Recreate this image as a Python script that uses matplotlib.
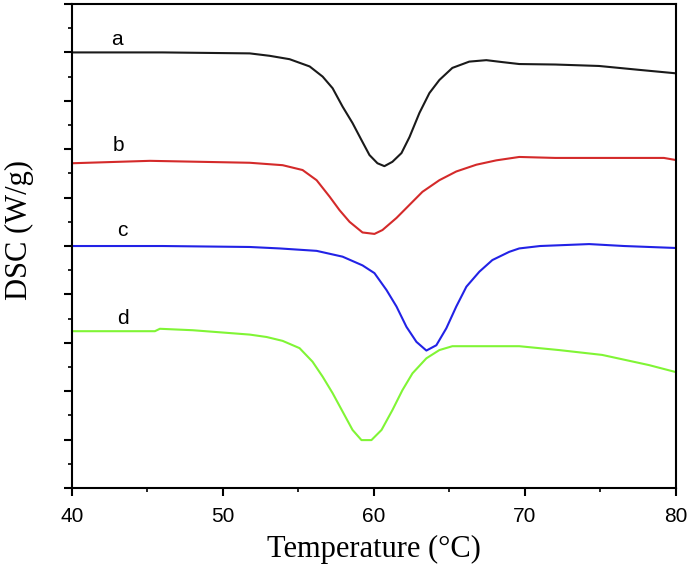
import numpy as np
import matplotlib.pyplot as plt
from matplotlib.ticker import MultipleLocator, NullFormatter

temp_a = [40.0, 46.0, 51.77, 53.09, 54.41, 55.74, 56.60, 57.26, 57.92, 58.58, 59.17, 59.70,
          60.23, 60.69, 61.22, 61.82, 62.35, 63.01, 63.67, 64.33, 65.19, 66.31, 67.44, 68.50,
          69.62, 72.0, 74.9, 77.55, 79.93]
dsc_a = [9.0, 9.0, 8.98, 8.93, 8.86, 8.71, 8.50, 8.26, 7.88, 7.54, 7.19, 6.88,
         6.71, 6.65, 6.74, 6.92, 7.25, 7.75, 8.16, 8.43, 8.68, 8.81, 8.84, 8.80,
         8.76, 8.75, 8.72, 8.64, 8.57]

temp_b = [40.0, 45.16, 51.77, 53.95, 55.27, 56.20, 57.06, 57.72, 58.38, 59.24, 60.03, 60.56,
          61.49, 62.35, 63.21, 64.33, 65.45, 66.78, 68.10, 69.62, 72.0, 75.0, 79.2, 79.93]
dsc_b = [6.71, 6.76, 6.72, 6.67, 6.57, 6.36, 6.02, 5.74, 5.50, 5.28, 5.25, 5.33,
         5.58, 5.85, 6.12, 6.36, 6.54, 6.68, 6.77, 6.84, 6.82, 6.82, 6.82, 6.78]

temp_c = [40.0, 46.0, 51.77, 53.75, 56.20, 57.92, 59.24, 60.03, 60.83, 61.49, 62.15, 62.81,
          63.47, 64.13, 64.79, 65.45, 66.12, 66.98, 67.84, 68.96, 69.62, 71.0, 74.25, 76.56,
          79.93]
dsc_c = [5.0, 5.0, 4.98, 4.95, 4.90, 4.78, 4.60, 4.44, 4.09, 3.75, 3.33, 3.02,
         2.84, 2.95, 3.30, 3.75, 4.16, 4.47, 4.71, 4.88, 4.95, 5.0, 5.04, 5.0,
         4.96]

temp_d = [40.0, 45.49, 45.82, 48.0, 51.77, 52.89, 53.95, 55.07, 55.93, 56.60, 57.26, 57.92,
          58.58, 59.17, 59.83, 60.50, 61.22, 61.88, 62.55, 63.47, 64.33, 65.19, 67.17, 69.62,
          72.26, 75.11, 78.21, 79.93]
dsc_d = [3.24, 3.24, 3.29, 3.26, 3.17, 3.12, 3.04, 2.89, 2.61, 2.30, 1.96, 1.58,
         1.20, 0.99, 0.99, 1.20, 1.61, 2.02, 2.37, 2.68, 2.85, 2.93, 2.93, 2.93,
         2.85, 2.75, 2.54, 2.40]

labels = ['a', 'b', 'c', 'd']
label_pos = [(43.0, 9.26), (43.1, 7.07), (43.3, 5.33), (43.4, 3.51)]
colors = ['#1a1a1a', '#d42a2a', '#2222e6', '#80f535']

fig = plt.figure(figsize=(6.89, 5.74), dpi=100)
ax = fig.add_axes([0.1045, 0.1498, 0.8766, 0.8432])

series = [(temp_a, dsc_a), (temp_b, dsc_b), (temp_c, dsc_c), (temp_d, dsc_d)]
for (t, s), c in zip(series, colors):
    ax.plot(t, s, color=c, lw=1.5)

sans = ['Liberation Sans', 'DejaVu Sans']
serif = ['Liberation Serif', 'DejaVu Serif']
for lab, (x, y) in zip(labels, label_pos):
    ax.text(x, y, lab, family=sans, fontsize=15, ha='center', va='center')

ax.set_xlim(40, 80)
ax.set_ylim(0, 10)
ax.xaxis.set_major_locator(MultipleLocator(10))
ax.xaxis.set_minor_locator(MultipleLocator(5))
ax.yaxis.set_major_locator(MultipleLocator(1))
ax.yaxis.set_minor_locator(MultipleLocator(0.5))
ax.yaxis.set_major_formatter(NullFormatter())

ax.tick_params(which='major', direction='out', length=6, width=1.5, top=False, right=False, pad=8)
ax.tick_params(which='minor', direction='out', length=3, width=1.2, top=False, right=False)
for lbl in ax.get_xticklabels():
    lbl.set_family(sans)
    lbl.set_fontsize(15)
for sp in ax.spines.values():
    sp.set_linewidth(1.5)

ax.set_xlabel('Temperature (°C)', family=serif, fontsize=22, labelpad=6)
ax.set_ylabel('DSC (W/g)', family=serif, fontsize=22)
ax.yaxis.set_label_coords(-0.063, 0.533)

fig.savefig('out.png', dpi=100)
